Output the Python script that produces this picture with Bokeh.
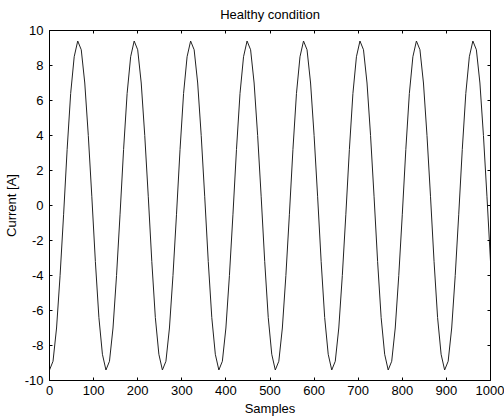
from bokeh.plotting import figure
from bokeh.models import Range1d, LinearAxis, FixedTicker
from bokeh.embed import file_html
from bokeh.resources import INLINE

# Sample index grid (every 8th sample) and current values
samples = list(range(0, 1001, 8))
current = [
    -9.4, -8.9, -7.0, -4.0, -0.5, 3.2, 6.4, 8.5, 9.4, 8.9, 7.0, 4.0, 0.5, -3.2, -6.4, -8.5,
    -9.4, -8.9, -7.0, -4.0, -0.5, 3.2, 6.4, 8.5, 9.4, 8.9, 7.0, 4.0, 0.5, -3.2, -6.4, -8.5,
    -9.4, -8.9, -7.0, -4.0, -0.5, 3.2, 6.4, 8.5, 9.4, 8.9, 7.0, 4.0, 0.5, -3.2, -6.4, -8.5,
    -9.4, -8.9, -7.0, -4.0, -0.5, 3.2, 6.4, 8.5, 9.4, 8.9, 7.0, 4.0, 0.5, -3.2, -6.4, -8.5,
    -9.4, -8.9, -7.0, -4.0, -0.5, 3.2, 6.4, 8.5, 9.4, 8.9, 7.0, 4.0, 0.5, -3.2, -6.4, -8.5,
    -9.4, -8.9, -7.0, -4.0, -0.5, 3.2, 6.4, 8.5, 9.4, 8.9, 7.0, 4.0, 0.5, -3.2, -6.4, -8.5,
    -9.4, -8.9, -7.0, -4.0, -0.5, 3.2, 6.4, 8.5, 9.4, 8.9, 7.0, 4.0, 0.5, -3.2, -6.4, -8.5,
    -9.4, -8.9, -7.0, -4.0, -0.5, 3.2, 6.4, 8.5, 9.4, 8.9, 7.0, 4.0, 0.5, -3.2,
]
x_ticks = [0, 100, 200, 300, 400, 500, 600, 700, 800, 900, 1000]
y_ticks = [-10, -8, -6, -4, -2, 0, 2, 4, 6, 8, 10]

FONT = "Liberation Sans"

p = figure(width=504, height=418, output_backend="svg", toolbar_location=None,
           x_range=Range1d(0, 1000), y_range=Range1d(-10, 10),
           min_border_left=49, min_border_right=14, min_border_top=29, min_border_bottom=36,
           title="Healthy condition")
p.title.align = "center"
p.title.vertical_align = "top"
p.title.text_font = FONT
p.title.text_font_size = "13px"
p.title.text_font_style = "normal"
p.title.text_color = "black"
p.title.standoff = 13
p.grid.visible = False
p.outline_line_color = "black"
p.background_fill_color = "white"
p.border_fill_color = "white"

p.line(samples, current, line_color="#222222", line_width=1)

for ax, ticks in ((p.xaxis[0], x_ticks), (p.yaxis[0], y_ticks)):
    ax.ticker = FixedTicker(ticks=ticks)
    ax.major_tick_in = 3
    ax.major_tick_out = 0
    ax.minor_tick_line_color = None
    ax.axis_line_color = "black"
    ax.major_tick_line_color = "black"
    ax.major_label_text_font = FONT
    ax.major_label_text_font_size = "13px"
    ax.major_label_text_color = "black"
    ax.axis_label_text_font = FONT
    ax.axis_label_text_font_size = "13px"
    ax.axis_label_text_font_style = "normal"
    ax.axis_label_text_color = "black"
    ax.axis_label_standoff = 3

p.xaxis.major_label_standoff = 5
p.yaxis.major_label_standoff = 6
p.xaxis.axis_label = "Samples"
p.yaxis.axis_label = "Current [A]"
p.xaxis.major_label_overrides = {t: str(t) for t in x_ticks}
p.yaxis.major_label_overrides = {t: ("-" + str(-t) if t < 0 else str(t)) for t in y_ticks}

for loc, ticks in (("above", x_ticks), ("right", y_ticks)):
    ax = LinearAxis(ticker=FixedTicker(ticks=ticks))
    ax.major_tick_in = 3
    ax.major_tick_out = 0
    ax.minor_tick_line_color = None
    ax.major_label_text_font_size = "0px"
    ax.major_label_standoff = 0
    ax.major_label_overrides = {t: "" for t in ticks}
    ax.axis_line_color = "black"
    p.add_layout(ax, loc)

open("out.html", "w").write(file_html(p, INLINE))
